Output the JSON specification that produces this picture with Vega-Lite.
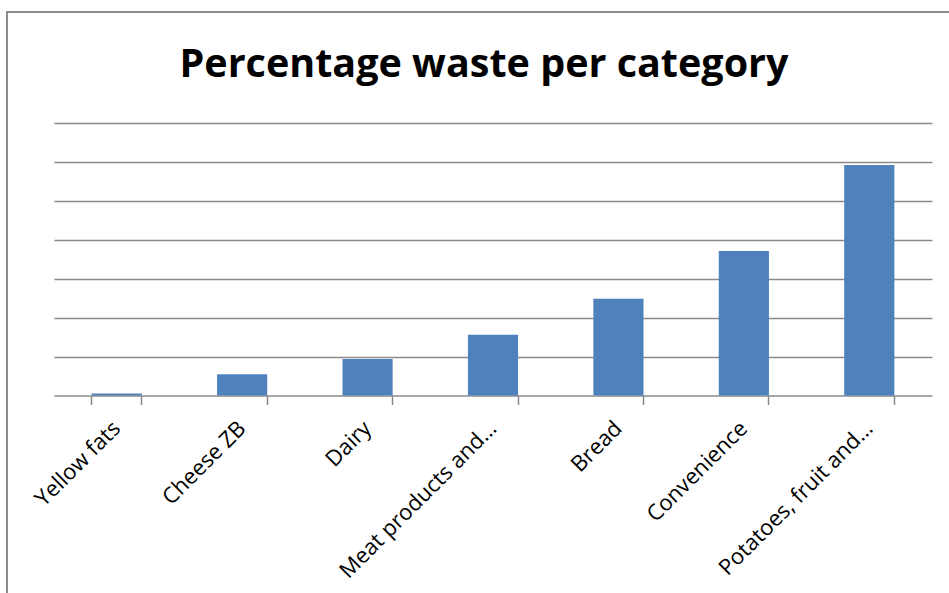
{
  "$schema": "https://vega.github.io/schema/vega-lite/v6.json",
  "width": 954,
  "height": 588,
  "autosize": {"type": "none"},
  "padding": {"left": 7, "top": 12, "right": 0, "bottom": 0},
  "background": "white",
  "title": {
    "text": "Percentage waste per category",
    "font": "Open Sans",
    "fontSize": 39.5,
    "fontWeight": "bold",
    "color": "#000000",
    "anchor": "middle",
    "orient": "top",
    "baseline": "alphabetic",
    "offset": -104
  },
  "data": {
    "values": [
      {"category": "Yellow fats", "waste": 0.25},
      {"category": "Cheese ZB", "waste": 2.72},
      {"category": "Dairy", "waste": 4.69},
      {"category": "Meat products and…", "waste": 7.81},
      {"category": "Bread", "waste": 12.44},
      {"category": "Convenience", "waste": 18.57},
      {"category": "Potatoes, fruit and…", "waste": 29.63}
    ]
  },
  "layer": [
    {
      "mark": {"type": "bar", "color": "#4f81bd"},
      "encoding": {
        "x": {
          "field": "category",
          "type": "nominal",
          "sort": null,
          "scale": {"range": [47, 925], "paddingInner": 0.6, "paddingOuter": 0.3},
          "axis": {
            "orient": "bottom",
            "offset": -204.5,
            "title": null,
            "labels": false,
            "domain": true,
            "domainColor": "#8a8a8a",
            "domainWidth": 1.5,
            "ticks": true,
            "tickColor": "#8a8a8a",
            "tickWidth": 1.5,
            "tickSize": 9,
            "bandPosition": 1,
            "tickExtra": true,
            "grid": false
          }
        },
        "y": {
          "field": "waste",
          "type": "quantitative",
          "scale": {"domain": [0, 35], "range": [383.5, 111.3], "nice": false},
          "axis": {
            "title": null,
            "labels": false,
            "ticks": false,
            "domain": false,
            "values": [5, 10, 15, 20, 25, 30, 35],
            "grid": true,
            "gridColor": "#8a8a8a",
            "gridWidth": 1.5
          }
        }
      }
    },
    {
      "mark": {"type": "bar", "color": "#4f81bd", "opacity": 0},
      "encoding": {
        "x": {
          "field": "category",
          "type": "nominal",
          "sort": null,
          "axis": {
            "orient": "bottom",
            "offset": -204.5,
            "title": null,
            "domain": false,
            "ticks": false,
            "grid": false,
            "labelAngle": -45,
            "labelAlign": "right",
            "labelBaseline": "middle",
            "labelPadding": 29,
            "labelFont": "Open Sans",
            "labelFontSize": 22,
            "labelColor": "#000000",
            "labelLimit": 0,
            "labelOverlap": false
          }
        },
        "y": {"field": "waste", "type": "quantitative", "axis": null}
      }
    }
  ],
  "resolve": {"axis": {"x": "independent", "y": "independent"}},
  "config": {
    "view": {"stroke": "#8c8c8c", "strokeWidth": 2}
  }
}
